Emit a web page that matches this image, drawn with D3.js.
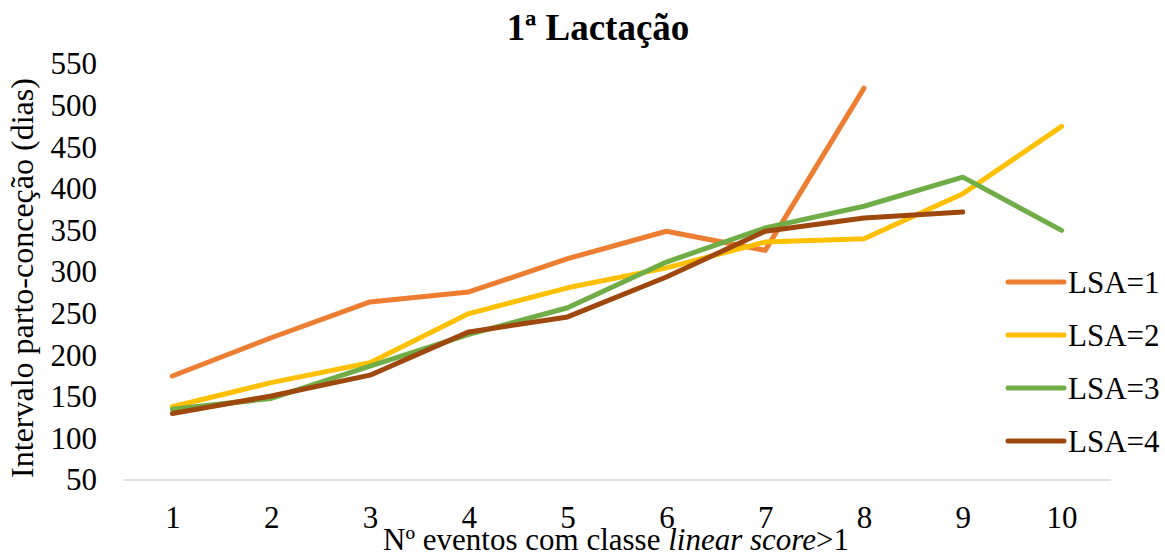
<!DOCTYPE html>
<html>
<head>
<meta charset="utf-8">
<script src="https://cdn.jsdelivr.net/npm/d3@7"></script>
<style>
  html, body { margin: 0; padding: 0; background: #fff; }
  svg { display: block; }
  text { font-family: "Liberation Serif", "Times New Roman", serif; fill: #000; }
</style>
</head>
<body>
<svg id="chart" width="1165" height="555"></svg>
<script>
// Number of events with linear score class > 1
const categories = ["1", "2", "3", "4", "5", "6", "7", "8", "9", "10"];

// Calving-to-conception interval (days) per LSA group
const lsa1 = [175, 221, 264, 276, 316, 349, 326, 521];
const lsa2 = [138, 167, 191, 250, 281, 305, 336, 340, 394, 475];
const lsa3 = [135, 148, 187, 225, 257, 312, 353, 379, 414, 350];
const lsa4 = [130, 151, 176, 228, 246, 294, 349, 365, 372];

const seriesNames = ["LSA=1", "LSA=2", "LSA=3", "LSA=4"];
const seriesColors = ["#ED7D31", "#FFC000", "#70AD47", "#9E480E"];
const yTicks = [50, 100, 150, 200, 250, 300, 350, 400, 450, 500, 550];

const series = [lsa1, lsa2, lsa3, lsa4].map((vals, i) => ({
  name: seriesNames[i],
  color: seriesColors[i],
  values: vals.map((v, j) => ({ cat: categories[j], v }))
}));

const svg = d3.select("#chart");
const plot = { left: 123, right: 1111, top: 64, bottom: 480 };

const x = d3.scalePoint().domain(categories).range([plot.left, plot.right]).padding(0.5);
const y = d3.scaleLinear().domain([50, 550]).range([plot.bottom, plot.top]);

// Title
svg.append("text")
  .attr("x", 598).attr("y", 40)
  .attr("text-anchor", "middle")
  .style("font-size", "37px").style("font-weight", "bold")
  .text("1ª Lactação");

// Y axis labels (no line, no ticks)
const yAxis = svg.append("g")
  .attr("transform", `translate(${plot.left - 26},0)`)
  .call(d3.axisLeft(y).tickValues(yTicks).tickSize(0).tickPadding(0));
yAxis.select(".domain").remove();
yAxis.selectAll("text")
  .style("font-family", "'Liberation Serif', 'Times New Roman', serif")
  .style("font-size", "31px").attr("fill", "#000");

// X axis: light baseline plus category labels
const xAxis = svg.append("g")
  .attr("transform", `translate(0,${plot.bottom})`)
  .call(d3.axisBottom(x).tickSize(0).tickPadding(26));
xAxis.select(".domain")
  .attr("d", `M${plot.left},0H${plot.right}`)
  .attr("stroke", "#d9d9d9").attr("stroke-width", 1.5);
xAxis.selectAll("text")
  .style("font-family", "'Liberation Serif', 'Times New Roman', serif")
  .style("font-size", "31px").attr("fill", "#000");

// Axis titles
svg.append("text")
  .attr("transform", "translate(33,278) rotate(-90)")
  .attr("text-anchor", "middle")
  .style("font-size", "32px")
  .text("Intervalo parto-conceção (dias)");

const xt = svg.append("text")
  .attr("x", 616).attr("y", 550)
  .attr("text-anchor", "middle")
  .style("font-size", "31px");
xt.append("tspan").text("Nº eventos com classe ");
xt.append("tspan").style("font-style", "italic").text("linear score");
xt.append("tspan").text(">1");

// Series lines
const line = d3.line().x(d => x(d.cat)).y(d => y(d.v));
svg.append("g").selectAll("path")
  .data(series)
  .join("path")
  .attr("d", d => line(d.values))
  .attr("fill", "none")
  .attr("stroke", d => d.color)
  .attr("stroke-width", 5)
  .attr("stroke-linecap", "round")
  .attr("stroke-linejoin", "round");

// Legend
const legend = svg.append("g").selectAll("g")
  .data(series)
  .join("g")
  .attr("transform", (d, i) => `translate(1008,${282 + i * 53})`);
legend.append("line")
  .attr("x1", 0).attr("x2", 56)
  .attr("stroke", d => d.color)
  .attr("stroke-width", 5)
  .attr("stroke-linecap", "round");
legend.append("text")
  .attr("x", 60).attr("y", 11)
  .style("font-size", "31px")
  .text(d => d.name);
</script>
</body>
</html>
